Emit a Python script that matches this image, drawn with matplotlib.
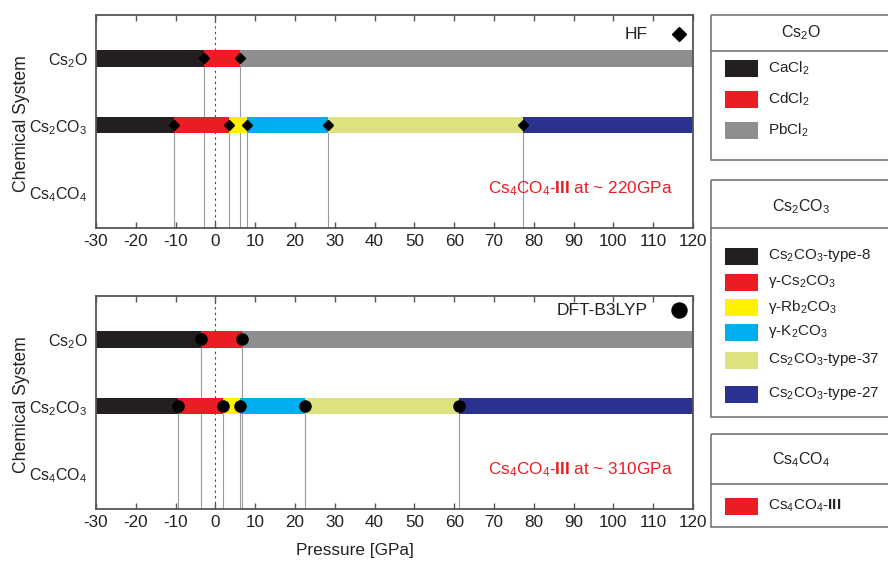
import matplotlib
matplotlib.use('Agg')
import matplotlib.pyplot as plt
from matplotlib.patches import Rectangle

plt.rcParams['font.family'] = ['Liberation Sans', 'DejaVu Sans']
plt.rcParams['mathtext.fontset'] = 'custom'
plt.rcParams['mathtext.rm'] = 'Liberation Sans'
plt.rcParams['mathtext.it'] = 'Liberation Sans:italic'
plt.rcParams['mathtext.bf'] = 'Liberation Sans:bold'
plt.rcParams['axes.unicode_minus'] = False

# ---------------- data ----------------
systems = [r'Cs$\mathregular{_2}$O', r'Cs$\mathregular{_2}$CO$\mathregular{_3}$', r'Cs$\mathregular{_4}$CO$\mathregular{_4}$']
p_min, p_max = -30, 120
xticks = list(range(-30, 121, 10))

cs2o_phases = [r'CaCl$\mathregular{_2}$', r'CdCl$\mathregular{_2}$', r'PbCl$\mathregular{_2}$']
cs2o_colors = ['#231f20', '#ec1c24', '#8d8e90']
cs2co3_phases = [r'Cs$\mathregular{_2}$CO$\mathregular{_3}$-type-8', r'γ-Cs$\mathregular{_2}$CO$\mathregular{_3}$',
                 r'γ-Rb$\mathregular{_2}$CO$\mathregular{_3}$', r'γ-K$\mathregular{_2}$CO$\mathregular{_3}$',
                 r'Cs$\mathregular{_2}$CO$\mathregular{_3}$-type-37', r'Cs$\mathregular{_2}$CO$\mathregular{_3}$-type-27']
cs2co3_colors = ['#231f20', '#ec1c24', '#fff200', '#00aeef', '#dde27e', '#2b3190']
cs4co4_phases = [r'Cs$\mathregular{_4}$CO$\mathregular{_4}$-$\mathbf{III}$']
cs4co4_colors = ['#ec1c24']

# transition pressures (GPa)
hf_cs2o = [-2.8, 6.25]
hf_cs2co3 = [-10.5, 3.3, 8.0, 28.4, 77.3]
b3_cs2o = [-3.5, 6.7]
b3_cs2co3 = [-9.3, 1.9, 6.3, 22.6, 61.3]
hf_cs4co4_p = 220
b3_cs4co4_p = 310

# ---------------- figure ----------------
W, H = 888, 562
fig = plt.figure(figsize=(W / 100, H / 100), dpi=100)
fig.patch.set_facecolor('white')

ax_top = fig.add_axes([96 / W, 1 - 228 / H, 597 / W, (228 - 15) / H])
ax_bot = fig.add_axes([96 / W, 1 - 509 / H, 597 / W, (509 - 296) / H])

YLIM = (2.54, -0.65)
BAR_H = 0.245
spine_c = '#555555'
vline_c = '#9a9a9a'


def draw_panel(ax, c2o, c2co3, marker, msize, method, cs4_p, label_y, ylab_y):
    ax.set_xlim(p_min, p_max)
    ax.set_ylim(*YLIM)
    for row, (bounds, colors) in enumerate([(c2o, cs2o_colors), (c2co3, cs2co3_colors)]):
        edges = [p_min] + bounds + [p_max]
        for i in range(len(edges) - 1):
            ax.barh(row, edges[i + 1] - edges[i], left=edges[i], height=BAR_H,
                    color=colors[i], edgecolor='none', zorder=2)
        ax.vlines(bounds, row, YLIM[0], colors=vline_c, lw=0.8, zorder=1)
        ax.plot(bounds, [row] * len(bounds), ls='none', marker=marker, ms=msize,
                color='black', zorder=3)
    ax.axvline(0, color='#444444', lw=0.8, ls=(0, (2, 3)), zorder=1)
    ax.set_yticks([0, 1, 2])
    ax.set_yticklabels(systems, fontsize=11.5, color='#222222')
    ax.tick_params(axis='y', length=0, pad=6)
    ax.set_xticks(xticks)
    ax.tick_params(axis='x', direction='in', length=4, width=1, color=spine_c,
                   top=True, labelsize=12.3, pad=4, labelcolor='#222222')
    for s in ax.spines.values():
        s.set_color(spine_c)
        s.set_linewidth(1.3)
    ax.set_ylabel('Chemical System', fontsize=12.7, color='#222222')
    ax.yaxis.set_label_coords(-0.111, ylab_y)
    ax.text(108.5, label_y, method, ha='right', va='center', fontsize=12.5, color='#222222')
    ax.plot([116.4], [label_y], marker=marker, ms=msize * 1.35, color='black', ls='none')
    ax.text(68.5, 1.95, r'Cs$\mathregular{_4}$CO$\mathregular{_4}$-$\mathbf{III}$ at ~ %dGPa' % cs4_p,
            ha='left', va='center', fontsize=12.3, color='#ec1c24')


draw_panel(ax_top, hf_cs2o, hf_cs2co3, 'D', 5, 'HF', hf_cs4co4_p, -0.36, 0.49)
draw_panel(ax_bot, b3_cs2o, b3_cs2co3, 'o', 8, 'DFT-B3LYP', b3_cs4co4_p, -0.44, 0.49)

fig.text(355 / W, 1 - 551 / H, 'Pressure [GPa]', ha='center', va='center',
         fontsize=12.3, color='#222222')

# ---------------- legend boxes ----------------
ov = fig.add_axes([0, 0, 1, 1])
ov.set_xlim(0, W)
ov.set_ylim(H, 0)
ov.axis('off')

box_c = '#777777'


def legend_box(y0, y1, yline, title, ytitle, labels, colors, ys):
    ov.add_patch(Rectangle((711, y0), 200, y1 - y0, fill=False, edgecolor=box_c, lw=1.2))
    ov.plot([711, 911], [yline, yline], color=box_c, lw=1.2)
    ov.text(801, ytitle, title, ha='center', va='center', fontsize=11.5, color='#222222')
    for lab, col, y in zip(labels, colors, ys):
        ov.add_patch(Rectangle((725, y - 8.5), 33, 17, facecolor=col, edgecolor='none'))
        ov.text(768, y, lab, ha='left', va='center', fontsize=11, color='#222222')


legend_box(15, 160, 51, systems[0], 33, cs2o_phases, cs2o_colors, [68, 99, 130])
legend_box(180, 417, 228, systems[1], 207, cs2co3_phases, cs2co3_colors,
           [256, 282, 307, 332, 360, 394])
legend_box(434, 527, 484, systems[2], 460, cs4co4_phases, cs4co4_colors, [506])

fig.savefig('out.png', dpi=100)
